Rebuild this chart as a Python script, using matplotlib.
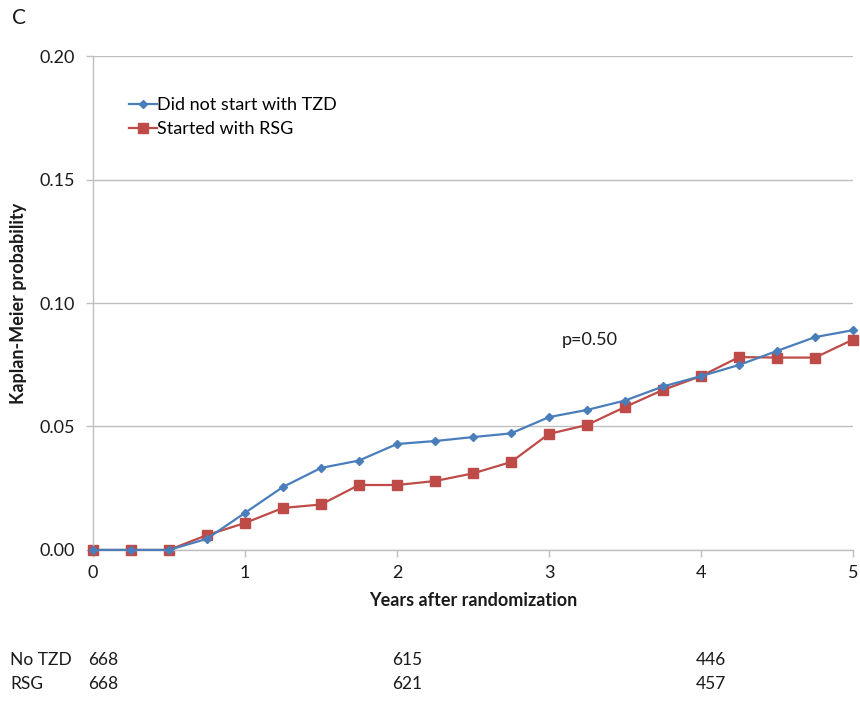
import numpy as np
import matplotlib.pyplot as plt

plt.rcParams['font.family'] = ['Lato', 'DejaVu Sans']

# Kaplan-Meier curves, quarterly time points
years = [0, 0.25, 0.5, 0.75, 1.0, 1.25, 1.5, 1.75, 2.0, 2.25, 2.5,
         2.75, 3.0, 3.25, 3.5, 3.75, 4.0, 4.25, 4.5, 4.75, 5.0]
no_tzd = [0, 0, 0, 0.0045, 0.0150, 0.0255, 0.0332, 0.0362, 0.0429, 0.0441, 0.0457,
          0.0472, 0.0538, 0.0567, 0.0605, 0.0662, 0.0704, 0.0749, 0.0806, 0.0862, 0.0890]
rsg = [0, 0, 0, 0.0060, 0.0109, 0.0170, 0.0184, 0.0263, 0.0263, 0.0279, 0.0310,
       0.0356, 0.0470, 0.0506, 0.0579, 0.0648, 0.0704, 0.0781, 0.0779, 0.0779, 0.0852]

# numbers at risk
risk_times = [0, 2, 4]
risk_no_tzd = [668, 615, 446]
risk_rsg = [668, 621, 457]

blue = '#4a7ebb'
red = '#be4b48'
grey = '#bfbfbf'
txt = '#1a1a1a'

fig = plt.figure(figsize=(8.6, 7.01), dpi=100)
ax = fig.add_axes([0.108, 0.2155, 0.884, 0.7045])

ax.plot(years, no_tzd, color=blue, lw=1.6, marker='D', ms=4.5,
        label='Did not start with TZD', zorder=3, clip_on=False)
ax.plot(years, rsg, color=red, lw=1.6, marker='s', ms=6.5,
        label='Started with RSG', zorder=2, clip_on=False)

ax.set_xlim(0, 5)
ax.set_ylim(0, 0.20)
ax.set_xticks(range(6))
ax.set_yticks([0, 0.05, 0.10, 0.15, 0.20])
ax.set_yticklabels(['0.00', '0.05', '0.10', '0.15', '0.20'])
ax.grid(axis='y', color=grey, lw=1.0)
ax.set_axisbelow(True)
for s in ['top', 'right']:
    ax.spines[s].set_visible(False)
for s in ['left', 'bottom']:
    ax.spines[s].set_color(grey)
    ax.spines[s].set_linewidth(1.0)
ax.tick_params(axis='both', colors=grey, labelcolor=txt, labelsize=13,
               length=5, width=1.0)
ax.tick_params(axis='x', pad=6)
ax.tick_params(axis='y', pad=8)

ax.set_xlabel('Years after randomization', fontsize=13, fontweight='bold',
              labelpad=8, color=txt)
ax.set_ylabel('Kaplan-Meier probability', fontsize=13, fontweight='bold',
              labelpad=9, color=txt)

ax.text(3.27, 0.085, 'p=0.50', fontsize=13, color=txt, ha='center', va='center')

leg = ax.legend(loc='upper left', bbox_to_anchor=(0.035, 0.935), frameon=False,
                fontsize=13, handlelength=1.6, handletextpad=0.0,
                labelspacing=0.45, borderpad=0)

fig.text(0.014, 0.974, 'C', fontsize=15, color=txt, va='center')

# risk table
row_y = [0.0585, 0.0245]
fig.text(0.012, row_y[0], 'No TZD', fontsize=12.5, color=txt, va='center')
fig.text(0.012, row_y[1], 'RSG', fontsize=12.5, color=txt, va='center')
for t, a, b in zip(risk_times, risk_no_tzd, risk_rsg):
    xf = fig.transFigure.inverted().transform(ax.transData.transform((t, 0)))[0]
    fig.text(xf - 0.006, row_y[0], str(a), fontsize=12.5, color=txt, va='center')
    fig.text(xf - 0.006, row_y[1], str(b), fontsize=12.5, color=txt, va='center')

fig.savefig('out.png', dpi=100)
